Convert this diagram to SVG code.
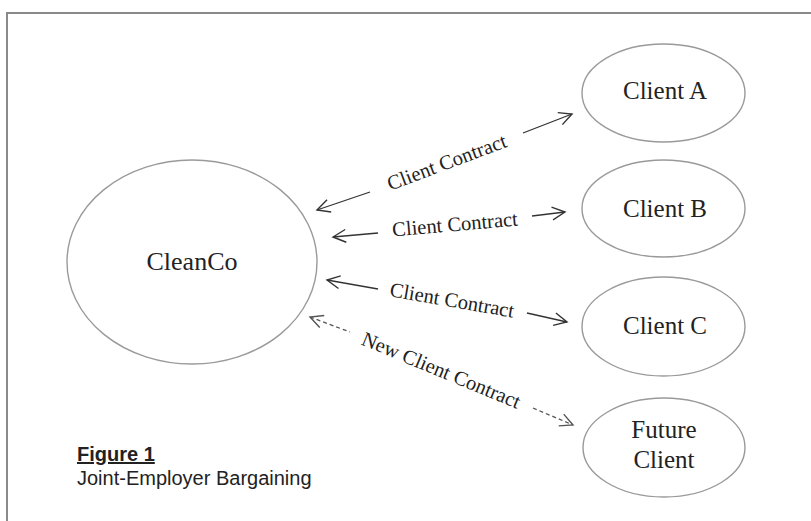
<svg xmlns="http://www.w3.org/2000/svg" width="811" height="521" viewBox="0 0 811 521">
<defs>
<style>
.node ellipse{fill:#fff;stroke:#9a9a9a;stroke-width:1.4}
.node text{font-family:"Liberation Serif","Times New Roman",serif;font-size:25px;fill:#222;text-anchor:middle}
.conn line{stroke:#333;stroke-width:1.3;fill:none}
.conn .dash{stroke-dasharray:4 3;stroke:#555}
.lbl{font-family:"Liberation Serif","Times New Roman",serif;font-size:20.5px;fill:#222;text-anchor:middle}
.cap{font-family:"Liberation Sans",Arial,sans-serif;font-size:20px;fill:#222}
</style>
<marker id="ah" markerUnits="userSpaceOnUse" markerWidth="16" markerHeight="16" viewBox="-1 -1 15 15" refX="12" refY="6" orient="auto-start-reverse">
<path d="M0,0 L12,6 L0,12" fill="none" stroke="#333" stroke-width="1.3"/>
</marker>
<marker id="ahd" markerUnits="userSpaceOnUse" markerWidth="16" markerHeight="16" viewBox="-1 -1 15 15" refX="12" refY="6" orient="auto-start-reverse">
<path d="M0,0 L12,6 L0,12" fill="none" stroke="#555" stroke-width="1.3"/>
</marker>
</defs>
<rect width="811" height="521" fill="#fff"/>
<path d="M7,521 V13 H811" fill="none" stroke="#8a8a8a" stroke-width="2"/>

<g id="cleanco" class="node">
<ellipse cx="192" cy="262" rx="125" ry="102"/>
<text x="192" y="270" style="font-size:26px">CleanCo</text>
</g>
<g id="client-a" class="node">
<ellipse cx="663.5" cy="93" rx="81.5" ry="49"/>
<text x="665" y="99">Client A</text>
</g>
<g id="client-b" class="node">
<ellipse cx="663.5" cy="208.5" rx="81.5" ry="48.5"/>
<text x="665" y="217">Client B</text>
</g>
<g id="client-c" class="node">
<ellipse cx="663.5" cy="326.5" rx="81.5" ry="49.5"/>
<text x="665" y="334">Client C</text>
</g>
<g id="future-client" class="node">
<ellipse cx="664" cy="447.5" rx="81" ry="49.5"/>
<text x="664" y="438">Future</text>
<text x="664" y="468">Client</text>
</g>

<g id="connectors" class="conn">
<line x1="317" y1="210" x2="370" y2="192" marker-start="url(#ah)"/>
<line x1="523" y1="133" x2="572" y2="114" marker-end="url(#ah)"/>
<line x1="333" y1="237" x2="378" y2="233" marker-start="url(#ah)"/>
<line x1="532" y1="216" x2="565" y2="212" marker-end="url(#ah)"/>
<line x1="327" y1="280" x2="378" y2="289" marker-start="url(#ah)"/>
<line x1="527" y1="313" x2="567" y2="322" marker-end="url(#ah)"/>
<line class="dash" x1="310" y1="317" x2="350" y2="332" marker-start="url(#ahd)"/>
<line class="dash" x1="533" y1="408" x2="573" y2="425" marker-end="url(#ahd)"/>
</g>

<g id="labels">
<text class="lbl" transform="translate(447,163) rotate(-20.6)" y="6">Client Contract</text>
<text class="lbl" transform="translate(455,225) rotate(-5)" y="6">Client Contract</text>
<text class="lbl" transform="translate(452,301) rotate(9.9)" y="6">Client Contract</text>
<text class="lbl" transform="translate(441,371) rotate(22.4)" y="6">New Client Contract</text>
</g>

<g id="caption">
<text class="cap" x="77" y="461" font-weight="bold" text-decoration="underline">Figure 1</text>
<text class="cap" x="77" y="485">Joint-Employer Bargaining</text>
</g>
</svg>
